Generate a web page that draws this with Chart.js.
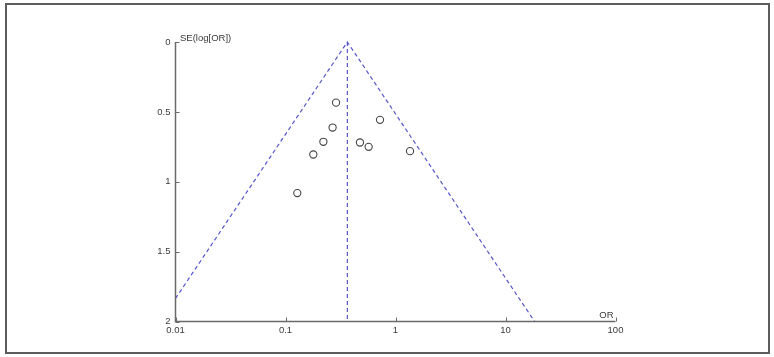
<!DOCTYPE html>
<html lang="en">
<head>
  <meta charset="UTF-8" />
  <title>Funnel plot</title>
  <script src="https://cdn.jsdelivr.net/npm/chart.js"></script>
  <style>
    * { margin: 0; padding: 0; box-sizing: border-box; }
    body { width: 774px; height: 357px; background: #fff; position: relative; overflow: hidden; }
    .frame {
      position: absolute;
      left: 5px; top: 3px;
      width: 765px; height: 351px;
      border: 2px solid #5c5c5c;
    }
    #funnel { position: absolute; left: 0; top: 0; }
  </style>
</head>
<body>
  <div class="frame"></div>
  <canvas id="funnel" width="774" height="357"></canvas>

  <script>
    // study estimates
    const studyOR = [0.288, 0.268, 0.221, 0.179, 0.128, 0.475, 0.570, 0.723, 1.355];
    const studySE = [0.434, 0.612, 0.714, 0.805, 1.081, 0.719, 0.750, 0.557, 0.781];

    // pooled estimate and 95% funnel limits
    const pooledOR = 0.365;
    const pooledSE = [0, 2];
    const funnelOR = [0.01, 0.365, 18.4];
    const funnelSE = [1.835, 0, 2];

    // axes
    const xTicks = [0.01, 0.1, 1, 10, 100];
    const yTicks = [0, 0.5, 1, 1.5, 2];
    const xTitle = 'OR';
    const yTitle = 'SE(log[OR])';

    const FONT = '"Liberation Sans", Arial, sans-serif';
    const TEXT = '#3a3a3a';
    const AXIS = '#6a6a6a';
    const DASH = 'rgb(86, 86, 204)';

    const zip = (xs, ys) => xs.map((x, i) => ({ x: x, y: ys[i] }));

    // axis lines, inward ticks and the two titles
    const axesPlugin = {
      id: 'axes',
      afterDraw(chart) {
        const { ctx, chartArea: a, scales } = chart;
        ctx.save();
        ctx.strokeStyle = AXIS;
        ctx.lineWidth = 1.5;
        ctx.beginPath();
        ctx.moveTo(a.left, a.top);
        ctx.lineTo(a.left, a.bottom);
        ctx.lineTo(a.right, a.bottom);
        ctx.stroke();

        ctx.lineWidth = 1;
        yTicks.forEach(v => {
          const y = Math.round(scales.y.getPixelForValue(v)) + 0.5;
          ctx.beginPath();
          ctx.moveTo(a.left, y);
          ctx.lineTo(a.left + 4, y);
          ctx.stroke();
        });
        xTicks.forEach(v => {
          const x = Math.round(scales.x.getPixelForValue(v)) + 0.5;
          ctx.beginPath();
          ctx.moveTo(x, a.bottom);
          ctx.lineTo(x, a.bottom - 4);
          ctx.stroke();
        });

        ctx.fillStyle = TEXT;
        ctx.font = '9.5px ' + FONT;
        ctx.textBaseline = 'alphabetic';
        ctx.textAlign = 'left';
        ctx.fillText(yTitle, a.left + 4.5, a.top - 1);
        ctx.textAlign = 'right';
        ctx.fillText(xTitle, a.right - 2, a.bottom - 4);
        ctx.restore();
      }
    };

    new Chart(document.getElementById('funnel').getContext('2d'), {
      type: 'scatter',
      data: {
        datasets: [
          {
            label: 'Studies',
            data: zip(studyOR, studySE),
            pointStyle: 'circle',
            pointRadius: 3.6,
            pointHoverRadius: 3.6,
            borderWidth: 1.1,
            borderColor: '#454545',
            backgroundColor: 'rgba(0,0,0,0)',
            clip: false
          },
          {
            label: 'Pooled',
            data: zip([pooledOR, pooledOR], pooledSE),
            showLine: true,
            pointRadius: 0,
            borderColor: DASH,
            borderWidth: 1.2,
            borderDash: [4, 3],
            clip: false
          },
          {
            label: 'Funnel',
            data: zip(funnelOR, funnelSE),
            showLine: true,
            pointRadius: 0,
            borderColor: DASH,
            borderWidth: 1.2,
            borderDash: [4, 3],
            clip: false
          }
        ]
      },
      options: {
        responsive: false,
        animation: false,
        events: [],
        layout: { padding: { left: 0, right: 158.5, top: 42, bottom: 0 } },
        plugins: {
          legend: { display: false },
          tooltip: { enabled: false }
        },
        scales: {
          x: {
            type: 'logarithmic',
            min: 0.01,
            max: 100,
            afterBuildTicks: s => { s.ticks = xTicks.map(v => ({ value: v })); },
            afterFit: s => { s.height = 35.5; },
            grid: { display: false, drawTicks: false },
            border: { display: false },
            ticks: {
              autoSkip: false,
              maxRotation: 0,
              padding: 3,
              color: TEXT,
              font: { family: FONT, size: 9.5 },
              callback: v => String(v)
            }
          },
          y: {
            type: 'linear',
            reverse: true,
            min: 0,
            max: 2,
            afterBuildTicks: s => { s.ticks = yTicks.map(v => ({ value: v })); },
            afterFit: s => { s.width = 175.5; },
            grid: { display: false, drawTicks: false },
            border: { display: false },
            ticks: {
              autoSkip: false,
              padding: 5,
              color: TEXT,
              font: { family: FONT, size: 9.5 },
              callback: v => String(v)
            }
          }
        }
      },
      plugins: [axesPlugin]
    });
  </script>
</body>
</html>
